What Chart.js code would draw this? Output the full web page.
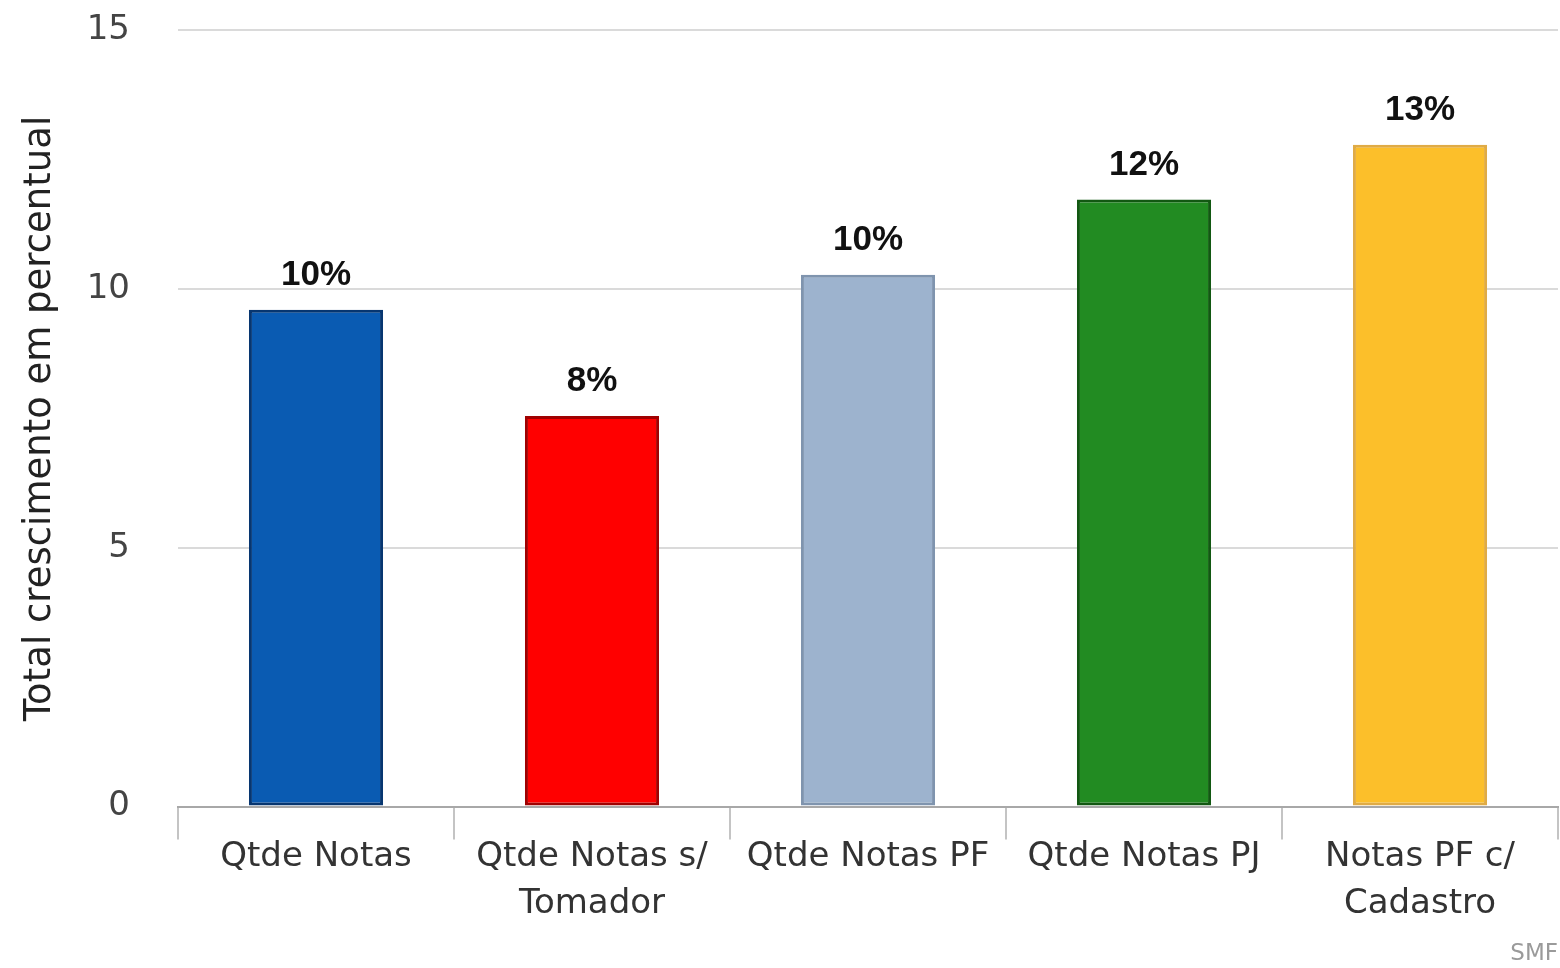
<!DOCTYPE html>
<html>
<head>
<meta charset="utf-8">
<script src="https://cdn.jsdelivr.net/npm/chart.js@4/dist/chart.umd.min.js"></script>
<style>
  html, body { margin: 0; padding: 0; background: #ffffff; }
  #wrap { width: 1560px; height: 968px; position: relative; }
</style>
</head>
<body>
<div id="wrap"><canvas id="c"></canvas></div>
<script>
const categories = [
  ['Qtde Notas'],
  ['Qtde Notas s/', 'Tomador'],
  ['Qtde Notas PF'],
  ['Qtde Notas PJ'],
  ['Notas PF c/', 'Cadastro']
];
const growthValues = [9.6, 7.55, 10.28, 11.73, 12.79];
const barColors = ['#0a5bb2', '#ff0000', '#9db3ce', '#228b22', '#fcbf2a'];
const barBorders = ['#073670', '#a00000', '#7f94ae', '#125812', '#e0ab45'];
const yTickValues = [0, 5, 10, 15];
const yTitle = 'Total crescimento em percentual';
const creditText = 'SMF';

const valueLabels = {
  id: 'valueLabels',
  afterDatasetsDraw(chart) {
    const ctx = chart.ctx;
    const meta = chart.getDatasetMeta(0);
    ctx.save();
    ctx.font = 'bold 35px "Liberation Sans", Arial, sans-serif';
    ctx.fillStyle = '#111111';
    ctx.textAlign = 'center';
    ctx.textBaseline = 'alphabetic';
    meta.data.forEach((bar, i) => {
      const v = chart.data.datasets[0].data[i];
      ctx.fillText(Math.round(v) + '%', bar.x, bar.y - 25);
    });
    ctx.restore();
  }
};

new Chart(document.getElementById('c'), {
  type: 'bar',
  data: {
    labels: categories,
    datasets: [{
      data: growthValues,
      backgroundColor: barColors,
      borderColor: barBorders,
      borderWidth: 3,
      borderSkipped: false,
      barPercentage: 0.486,
      categoryPercentage: 1.0
    }]
  },
  options: {
    responsive: true,
    maintainAspectRatio: false,
    animation: false,
    layout: { padding: { top: 2, right: 2, left: 4, bottom: 0 } },
    plugins: {
      legend: { display: false },
      tooltip: { enabled: false },
      subtitle: {
        display: true,
        text: creditText,
        position: 'bottom',
        align: 'end',
        color: '#9a9a9a',
        font: { family: '"DejaVu Sans", sans-serif', size: 23 },
        padding: { top: 19, bottom: 0 }
      }
    },
    scales: {
      x: {
        grid: {
          display: true,
          drawOnChartArea: false,
          drawTicks: true,
          tickLength: 33,
          offset: true,
          color: '#c4c4c4',
          lineWidth: 2
        },
        border: { display: true, color: '#a8a8a8', width: 2 },
        ticks: {
          color: '#333333',
          padding: -6,
          maxRotation: 0,
          autoSkip: false,
          font: { family: '"DejaVu Sans", sans-serif', size: 34, lineHeight: 1.38 }
        }
      },
      y: {
        min: 0,
        max: 15,
        afterBuildTicks(scale) { scale.ticks = yTickValues.map(v => ({ value: v })); },
        afterFit(scale) { scale.width = 174; },
        grid: {
          color: '#dadada',
          lineWidth: 2,
          drawTicks: true,
          tickLength: 38,
          tickColor: 'rgba(0,0,0,0)'
        },
        border: { display: false },
        ticks: {
          color: '#444444',
          padding: 10,
          font: { family: '"DejaVu Sans", sans-serif', size: 34 }
        },
        title: {
          display: true,
          text: yTitle,
          color: '#222222',
          font: { family: '"DejaVu Sans", sans-serif', size: 37 },
          padding: { top: 14, bottom: 0 }
        }
      }
    }
  },
  plugins: [valueLabels]
});
</script>
</body>
</html>
